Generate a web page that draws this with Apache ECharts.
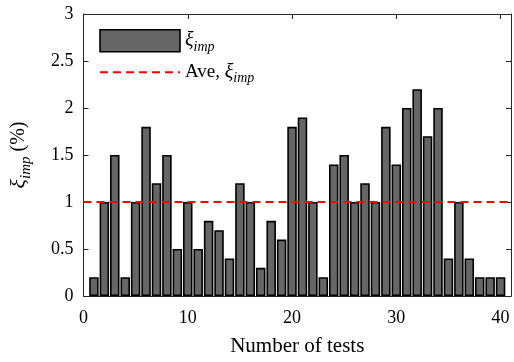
<!DOCTYPE html>
<html>
<head>
<meta charset="utf-8">
<script src="https://cdn.jsdelivr.net/npm/echarts@6/dist/echarts.min.js"></script>
<style>html,body{margin:0;padding:0;background:#fff}#c{width:514px;height:362px}</style>
</head>
<body>
<div id="c"></div>
<script>
// ---- data ----
const testNumbers = [1,2,3,4,5,6,7,8,9,10,11,12,13,14,15,16,17,18,19,20,21,22,23,24,25,26,27,28,29,30,31,32,33,34,35,36,37,38,39,40];
const xiImp = [0.2,1.0,1.5,0.2,1.0,1.8,1.2,1.5,0.5,1.0,0.5,0.8,0.7,0.4,1.2,1.0,0.3,0.8,0.6,1.8,1.9,1.0,0.2,1.4,1.5,1.0,1.2,1.0,1.8,1.4,2.0,2.2,1.7,2.0,0.4,1.0,0.4,0.2,0.2,0.2];
const aveXiImp = 1.0;
const xRange = [0, 41];
const yRange = [0, 3];
const xTicks = [0, 10, 20, 30, 40];
const yTicks = [0, 0.5, 1, 1.5, 2, 2.5, 3];

const FONT = 'Liberation Serif';
const AX = '#262626';
const barData = testNumbers.map((n, i) => [n, xiImp[i]]);
const aveData = [[xRange[0], aveXiImp], [xRange[1], aveXiImp]];

const richLegend = {
  g: {fontFamily: FONT, fontSize: 20, fontStyle: 'italic', color: '#000'},
  s: {fontFamily: FONT, fontSize: 14, fontStyle: 'italic', color: '#000', padding: [13, 0, 0, 0]},
  n: {fontFamily: FONT, fontSize: 19, color: '#000'}
};
const richName = {
  g: {fontFamily: FONT, fontSize: 22, fontStyle: 'italic', color: '#000'},
  s: {fontFamily: FONT, fontSize: 15, fontStyle: 'italic', color: '#000', padding: [14, 0, 0, 0]},
  n: {fontFamily: FONT, fontSize: 20, color: '#000'}
};

const chart = echarts.init(document.getElementById('c'));
chart.setOption({
  animation: false,
  grid: {left: 81, right: 3, top: 14, bottom: 62},
  legend: {
    orient: 'vertical', left: 99, top: 29,
    itemWidth: 80, itemHeight: 22, itemGap: 8,
    padding: 0,
    textStyle: {fontFamily: FONT, fontSize: 18, color: '#000', rich: richLegend},
    data: [
      {name: 'xi', icon: 'rect', itemStyle: {color: '#666666', borderColor: '#000', borderWidth: 1.6}},
      {name: 'ave', itemStyle: {opacity: 0}}
    ],
    formatter: function (name) {
      return name === 'xi' ? '{g|ξ}{s|imp}' : '{n|Ave, }{g|ξ}{s|imp}';
    }
  },
  xAxis: [{
    type: 'value', min: xRange[0], max: xRange[1], interval: 10,
    name: 'Number of tests', nameLocation: 'middle', nameGap: 40,
    nameTextStyle: {fontFamily: FONT, fontSize: 21, color: '#000'},
    axisLine: {onZero: false, lineStyle: {color: AX, width: 1}},
    axisTick: {inside: true, length: 5, lineStyle: {color: AX}},
    axisLabel: {fontFamily: FONT, fontSize: 18, color: '#000', margin: 13,
      formatter: v => xTicks.indexOf(v) >= 0 ? String(v) : ''},
    splitLine: {show: false}
  }, {
    type: 'value', position: 'top', min: xRange[0], max: xRange[1], interval: 10,
    axisLine: {onZero: false, lineStyle: {color: AX, width: 1}},
    axisTick: {inside: true, length: 5, lineStyle: {color: AX}},
    axisLabel: {show: false}, splitLine: {show: false}
  }],
  yAxis: [{
    type: 'value', min: yRange[0], max: yRange[1], interval: 0.5,
    name: '{g|ξ}{s|imp}{n| (%)}', nameLocation: 'middle', nameGap: 50, nameRotate: 90,
    nameTextStyle: {rich: richName},
    axisLine: {show: true, onZero: false, lineStyle: {color: AX, width: 1}},
    axisTick: {show: true, inside: true, length: 5, lineStyle: {color: AX}},
    axisLabel: {fontFamily: FONT, fontSize: 18, color: '#000', margin: 10,
      formatter: v => yTicks.indexOf(v) >= 0 ? String(v) : ''},
    splitLine: {show: false}
  }, {
    type: 'value', position: 'right', min: yRange[0], max: yRange[1], interval: 0.5,
    axisLine: {show: true, onZero: false, lineStyle: {color: AX, width: 1}},
    axisTick: {show: true, inside: true, length: 5, lineStyle: {color: AX}},
    axisLabel: {show: false}, splitLine: {show: false}
  }],
  series: [{
    name: 'xi', type: 'bar', xAxisIndex: 0, yAxisIndex: 0,
    data: barData, barWidth: 9.5,
    itemStyle: {color: '#666666', borderColor: '#000', borderWidth: 1.6}
  }, {
    name: 'ave', type: 'line', xAxisIndex: 0, yAxisIndex: 0,
    data: aveData, symbol: 'none', z: 5,
    lineStyle: {color: '#ff0000', width: 2, type: [8, 5]},
    itemStyle: {color: '#ff0000'}
  }]
});
</script>
</body>
</html>
